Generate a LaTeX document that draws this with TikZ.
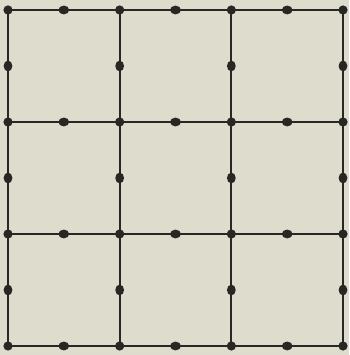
\documentclass[tikz,border=0pt]{standalone}
\definecolor{paper}{RGB}{222,220,205}
\definecolor{ink}{RGB}{40,39,36}
\tikzset{
  gridline/.style={line width=2.1pt, draw=ink},
  vdot/.style={fill=ink},
}
\begin{document}
\begin{tikzpicture}[x=1pt, y=1pt]
  % page: 349 x 355, grid corners at (8,10) and (343,346)
  \fill[paper] (0,0) rectangle (349,355);
  \useasboundingbox (0,0) rectangle (349,355);
  % grid lines, spacing 111.67 across and 112 down
  \foreach \i in {0,...,3} {
    \draw[gridline] (8+111.67*\i,9) -- (8+111.67*\i,345);
    \draw[gridline] (8,345-112*\i) -- (343,345-112*\i);
  }
  % dots at the corners
  \foreach \i in {0,...,3}
    \foreach \j in {0,...,3}
      \fill[vdot] (8+111.67*\i,345-112*\j) circle (4.6);
  % dots at the middle of each side
  \foreach \i in {0,...,2}
    \foreach \j in {0,...,3} {
      \fill[vdot] (8+111.67*\i+55.83,345-112*\j) ellipse (5.4 and 4.4);
      \fill[vdot] (8+111.67*\j,345-112*\i-56) ellipse (4.4 and 5.4);
    }
\end{tikzpicture}
\end{document}
